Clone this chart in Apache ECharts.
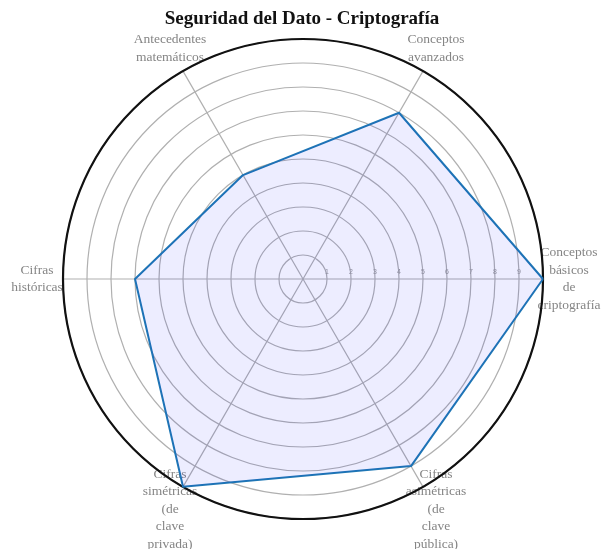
<!DOCTYPE html>
<html>
<head>
<meta charset="utf-8">
<script src="https://cdn.jsdelivr.net/npm/echarts@6/dist/echarts.min.js"></script>
<style>
    html, body { margin: 0; padding: 0; background: #fff; }
</style>
</head>
<body>
<div id="chart" style="width: 604px;height: 549px;"></div>
<script>
// categorias (en sentido antihorario desde la derecha)
const categorias = [
    'Conceptos\nbásicos\nde\ncriptografía',
    'Conceptos\navanzados',
    'Antecedentes\nmatemáticos',
    'Cifras\nhistóricas',
    'Cifras\nsimétricas\n(de\nclave\nprivada)',
    'Cifras\nasimétricas\n(de\nclave\npública)'
]
const valores = [10, 8, 5, 7, 10, 9]
const etiquetasRadio = ['1', '2', '3', '4', '5', '6', '7', '8', '9']

const centro = [303, 279]
const radio = 240

function initEchart(el, option) {
    const myChart = echarts.init(el)
    myChart.setOption(option, true)
    return myChart
}

// etiquetas de categoria alrededor del circulo
function getLabels() {
    const n = categorias.length
    const r = radio + 26
    return categorias.map(function (name, i) {
        const a = i * 2 * Math.PI / n
        return {
            type: 'text',
            silent: true,
            style: {
                text: name,
                x: centro[0] + r * Math.cos(a),
                y: centro[1] - r * Math.sin(a),
                align: 'center',
                verticalAlign: 'middle',
                font: '13.5px "Liberation Serif"',
                lineHeight: 17.5,
                fill: '#858585'
            }
        }
    })
}

const getOption = function () {
    return {
        backgroundColor: '#fff',
        animation: false,
        title: {
            text: 'Seguridad del Dato - Criptografía',
            left: 'center',
            top: 5,
            textStyle: {
                fontFamily: 'Liberation Serif',
                fontSize: 19,
                fontWeight: 'bold',
                color: '#111'
            }
        },
        polar: {
            center: centro,
            radius: radio
        },
        angleAxis: {
            type: 'value',
            min: 0,
            max: 360,
            interval: 60,
            startAngle: 0,
            clockwise: false,
            axisLine: { lineStyle: { color: '#111', width: 2.2 } },
            axisTick: { show: false },
            axisLabel: { show: false },
            splitLine: { lineStyle: { color: '#b0b0b0', width: 1.2 } }
        },
        radiusAxis: {
            type: 'value',
            min: 0,
            max: 10,
            interval: 1,
            axisLine: { show: false },
            axisTick: { show: false },
            axisLabel: {
                fontSize: 7,
                color: '#999',
                margin: 3,
                formatter: function (v) {
                    return etiquetasRadio.indexOf(String(v)) >= 0 ? String(v) : ''
                }
            },
            splitLine: { lineStyle: { color: '#b0b0b0', width: 1.2 } }
        },
        radar: {
            center: centro,
            radius: radio,
            startAngle: 0,
            shape: 'circle',
            indicator: categorias.map(function (name) {
                return { name: name, min: 0, max: 10 }
            }),
            axisName: { show: false },
            axisLine: { show: false },
            splitLine: { show: false },
            splitArea: { show: false }
        },
        graphic: getLabels(),
        series: [
            {
                type: 'radar',
                symbol: 'none',
                lineStyle: { color: '#1f77b4', width: 2 },
                areaStyle: { color: 'rgba(0, 0, 255, 0.1)' },
                data: [{ value: valores, name: 'Criptografía' }]
            }
        ]
    }
}

initEchart(document.getElementById('chart'), getOption())
</script>
</body>
</html>
